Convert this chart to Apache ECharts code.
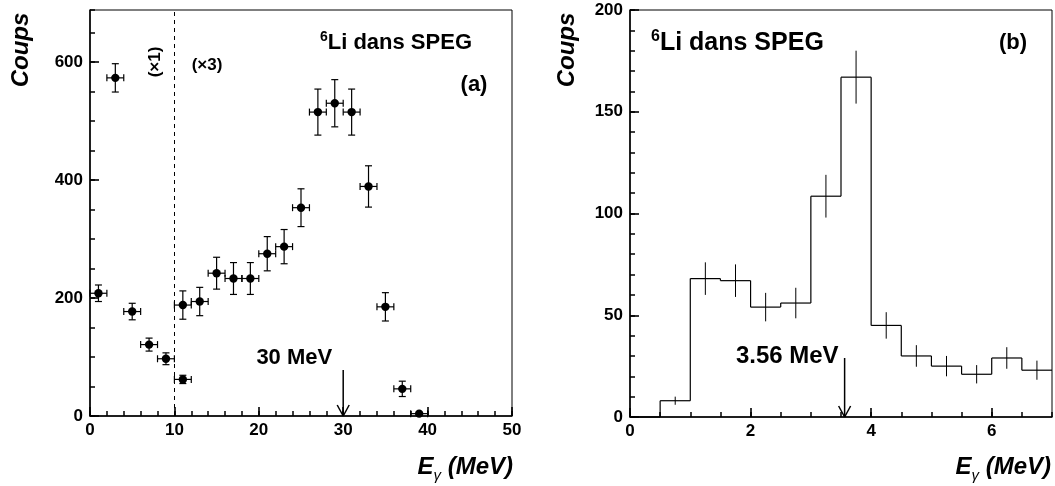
<!DOCTYPE html>
<html><head><meta charset="utf-8">
<script src="https://cdn.jsdelivr.net/npm/echarts@6/dist/echarts.min.js"></script>
<style>html,body{margin:0;padding:0;background:#fff}#c{width:1055px;height:486px}</style>
</head><body><div id="c"></div>
<script>
// ---- Panel (a): points with error bars ----
const pointsX   = [1, 3, 5, 7, 9, 11, 11, 13, 15, 17, 19, 21, 23, 25, 27, 29, 31, 33, 35, 37, 39];
const pointsY   = [208, 573, 177, 121, 97, 62, 188, 194, 242, 233, 233, 275, 287, 353, 515, 530, 515, 389, 185, 46, 4];
const pointsErr = [14, 24, 14, 11, 10, 7, 24, 24, 27, 27, 27, 29, 29, 32, 39, 40, 39, 35, 24, 13, 0];
const pointsXErr = [1, 1, 1, 1, 1, 1, 1, 1, 1, 1, 1, 1, 1, 1, 1, 1, 1, 1, 1, 1, 1];
const dashX = 10;
const arrowA = [[30, 78, 0]];
const arrowALabel = ['30 MeV'];
const xTicksA = {min: 0, max: 50, interval: 10, minor: 2};
const yTicksA = {min: 0, max: 688, interval: 200, minor: 50};

// ---- Panel (b): histogram ----
const histEdges  = [0, 0.5, 1, 1.5, 2, 2.5, 3, 3.5, 4, 4.5, 5, 5.5, 6, 6.5, 7];
const histCounts = [0, 8, 68, 67, 54, 56, 108.5, 167, 45, 30, 25, 21, 29, 23];
const histErrors = [0, 2, 8, 8, 7, 7.5, 10.5, 13, 6.5, 5.3, 5, 4.5, 5.3, 4.7];
const arrowB = [[3.56, 29, 0]];
const arrowBLabel = ['3.56 MeV'];
const xTicksB = {min: 0, max: 7, interval: 2, minor: 0.5};
const yTicksB = {min: 0, max: 200, interval: 50, minor: 10};

const FONT = 'Liberation Sans, Arial, sans-serif';
const lbl = {color: '#000', fontFamily: FONT, fontWeight: 'bold', fontSize: 17};

function errRender(params, api) {
  const x = api.value(0), y = api.value(1), e = api.value(2), xe = api.value(3);
  const c = api.coord([x, y]);
  const L = api.coord([x - xe, y]), R = api.coord([x + xe, y]);
  const st = {stroke: '#000', lineWidth: 1.2};
  const ch = [
    {type: 'line', shape: {x1: L[0], y1: c[1], x2: R[0], y2: c[1]}, style: st},
    {type: 'line', shape: {x1: L[0], y1: c[1] - 3.5, x2: L[0], y2: c[1] + 3.5}, style: st},
    {type: 'line', shape: {x1: R[0], y1: c[1] - 3.5, x2: R[0], y2: c[1] + 3.5}, style: st}
  ];
  if (e > 0) {
    const T = api.coord([x, y + e]), B = api.coord([x, y - e]);
    ch.push({type: 'line', shape: {x1: c[0], y1: T[1], x2: c[0], y2: B[1]}, style: st});
    ch.push({type: 'line', shape: {x1: c[0] - 3.5, y1: T[1], x2: c[0] + 3.5, y2: T[1]}, style: st});
    ch.push({type: 'line', shape: {x1: c[0] - 3.5, y1: B[1], x2: c[0] + 3.5, y2: B[1]}, style: st});
  }
  ch.push({type: 'circle', shape: {cx: c[0], cy: c[1], r: 4.2}, style: {fill: '#000'}});
  return {type: 'group', children: ch};
}

function histRender(params, api) {
  const lo = api.value(0), hi = api.value(1), n = api.value(2), e = api.value(3), prev = api.value(4);
  const a = api.coord([lo, n]), b = api.coord([hi, n]), p = api.coord([lo, prev]);
  const st = {stroke: '#000', lineWidth: 1.2};
  const ch = [
    {type: 'line', shape: {x1: a[0], y1: a[1], x2: b[0], y2: b[1]}, style: st},
    {type: 'line', shape: {x1: a[0], y1: p[1], x2: a[0], y2: a[1]}, style: st}
  ];
  if (e > 0) {
    const mid = (lo + hi) / 2;
    const T = api.coord([mid, n + e]), B = api.coord([mid, n - e]);
    ch.push({type: 'line', shape: {x1: T[0], y1: T[1], x2: B[0], y2: B[1]}, style: {stroke: '#000', lineWidth: 1}});
  }
  return {type: 'group', children: ch};
}

function arrowRender(labels, fontSize, dx, dy) {
  return function (params, api) {
    const x = api.value(0), t = api.value(1), b = api.value(2);
    const T = api.coord([x, t]), B = api.coord([x, b]);
    const st = {stroke: '#000', lineWidth: 1.5};
    return {type: 'group', children: [
      {type: 'line', shape: {x1: T[0], y1: T[1], x2: B[0], y2: B[1]}, style: st},
      {type: 'line', shape: {x1: B[0] - 6, y1: B[1] - 11, x2: B[0], y2: B[1]}, style: st},
      {type: 'line', shape: {x1: B[0] + 6, y1: B[1] - 11, x2: B[0], y2: B[1]}, style: st},
      {type: 'text', x: T[0] - dx, y: T[1] - dy, style: {text: labels[params.dataIndex], fill: '#000',
        font: 'bold ' + fontSize + 'px ' + FONT, align: 'right', verticalAlign: 'middle'}}
    ]};
  };
}

const chart = echarts.init(document.getElementById('c'), null, {renderer: 'canvas'});

const axisLine = {show: true, lineStyle: {color: '#000', width: 1.5}};
const tickMajor = {show: true, inside: true, length: 9, lineStyle: {color: '#000', width: 1.6}};
const tickMinor = {show: true, inside: true, length: 5, lineStyle: {color: '#000', width: 1.5}};

function gtext(x, y, text, size, opts) {
  return Object.assign({type: 'text', x: x, y: y, style: Object.assign({text: text, fill: '#000',
    font: 'bold ' + size + 'px ' + FONT, align: 'center', verticalAlign: 'middle'}, opts && opts.style || {})},
    opts && opts.el || {});
}
function titleRich(size) {
  return {
    s: {fontFamily: FONT, fontWeight: 'bold', fontSize: Math.round(size * 0.62), verticalAlign: 'top', fill: '#000', color: '#000'},
    t: {fontFamily: FONT, fontWeight: 'bold', fontSize: size, lineHeight: size + 4, verticalAlign: 'middle', fill: '#000', color: '#000'}
  };
}
const eRich = {
  e: {fontFamily: FONT, fontWeight: 'bold', fontStyle: 'italic', fontSize: 24, lineHeight: 32, verticalAlign: 'middle', color: '#000', fill: '#000'},
  g: {fontFamily: FONT, fontStyle: 'italic', fontSize: 15, verticalAlign: 'bottom', color: '#000', fill: '#000'}
};
function minorAxis(grid, pos, t) {
  return {type: 'value', gridIndex: grid, position: pos, min: t.min, max: t.max, interval: t.minor,
    axisLine: {show: false}, axisTick: tickMinor, splitLine: {show: false}, axisLabel: {show: false}};
}

const option = {
  animation: false,
  backgroundColor: '#fff',
  grid: [
    {left: 90, top: 10, width: 422, height: 406, show: true, borderColor: '#000', borderWidth: 1, containLabel: false},
    {left: 630, top: 10, width: 422, height: 407, show: true, borderColor: '#000', borderWidth: 1, containLabel: false}
  ],
  xAxis: [
    {type: 'value', gridIndex: 0, position: 'bottom', min: xTicksA.min, max: xTicksA.max, interval: xTicksA.interval,
      axisLine: axisLine, axisTick: tickMajor, splitLine: {show: false}, axisLabel: Object.assign({margin: 6}, lbl)},
    {type: 'value', gridIndex: 1, position: 'bottom', min: xTicksB.min, max: xTicksB.max, interval: xTicksB.interval,
      axisLine: axisLine, axisTick: tickMajor, splitLine: {show: false},
      axisLabel: Object.assign({margin: 6, showMaxLabel: false}, lbl)},
    minorAxis(0, 'bottom', xTicksA),
    minorAxis(1, 'bottom', xTicksB)
  ],
  yAxis: [
    {type: 'value', gridIndex: 0, position: 'left', min: yTicksA.min, max: yTicksA.max, interval: yTicksA.interval,
      axisLine: axisLine, axisTick: tickMajor, splitLine: {show: false},
      axisLabel: Object.assign({margin: 7, showMaxLabel: false}, lbl)},
    {type: 'value', gridIndex: 1, position: 'left', min: yTicksB.min, max: yTicksB.max, interval: yTicksB.interval,
      axisLine: axisLine, axisTick: tickMajor, splitLine: {show: false}, axisLabel: Object.assign({margin: 7}, lbl)},
    minorAxis(0, 'left', yTicksA),
    minorAxis(1, 'left', yTicksB)
  ],
  graphic: [
    gtext(21, 50, 'Coups', 24, {style: {font: 'italic bold 24px ' + FONT}, el: {rotation: Math.PI / 2}}),
    gtext(567, 50, 'Coups', 24, {style: {font: 'italic bold 24px ' + FONT}, el: {rotation: Math.PI / 2}}),
    {type: 'text', x: 513, y: 467, style: {text: '{e|E}{g|γ}{e| (MeV)}', rich: eRich, align: 'right', verticalAlign: 'middle'}},
    {type: 'text', x: 1051, y: 467, style: {text: '{e|E}{g|γ}{e| (MeV)}', rich: eRich, align: 'right', verticalAlign: 'middle'}},
    {type: 'text', x: 472, y: 43, style: {text: '{s|6}{t|Li dans SPEG}', rich: titleRich(22), align: 'right', verticalAlign: 'middle'}},
    {type: 'text', x: 651, y: 43, style: {text: '{s|6}{t|Li dans SPEG}', rich: titleRich(25), align: 'left', verticalAlign: 'middle'}},
    gtext(474, 85, '(a)', 22),
    gtext(1013, 43, '(b)', 22),
    gtext(207, 65, '(×3)', 17),
    gtext(155, 62, '(×1)', 17, {el: {rotation: Math.PI / 2}})
  ],
  series: [
    {type: 'custom', xAxisIndex: 0, yAxisIndex: 0, renderItem: errRender, clip: false,
      data: pointsX.map((x, i) => [x, pointsY[i], pointsErr[i], pointsXErr[i]]),
      markLine: {silent: true, symbol: 'none', animation: false, label: {show: false},
        lineStyle: {color: '#000', width: 1, type: [4, 4]}, data: [{xAxis: dashX}]}},
    {type: 'custom', xAxisIndex: 0, yAxisIndex: 0, renderItem: arrowRender(arrowALabel, 22, 11, 12), clip: false,
      data: arrowA},
    {type: 'custom', xAxisIndex: 1, yAxisIndex: 1, renderItem: histRender, clip: false,
      data: histCounts.map((n, i) => [histEdges[i], histEdges[i + 1], n, histErrors[i], i > 0 ? histCounts[i - 1] : 0])},
    {type: 'custom', xAxisIndex: 1, yAxisIndex: 1, renderItem: arrowRender(arrowBLabel, 24, 6, 2), clip: false,
      data: arrowB}
  ]
};
chart.setOption(option);
</script>
</body></html>
